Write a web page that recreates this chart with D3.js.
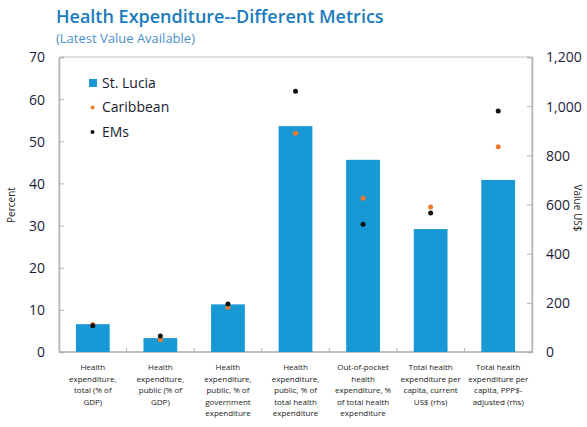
<!DOCTYPE html>
<html>
<head>
<meta charset="utf-8">
<script src="https://cdn.jsdelivr.net/npm/d3@7"></script>
<style>
  body { margin: 0; background: #fff; }
  text { font-family: "Open Sans", "Noto Sans", sans-serif; }
</style>
</head>
<body>
<div id="wrapper"></div>
<script>

// 1. Data
const categories = [
    ["Health", "expenditure,", "total (% of", "GDP)"],
    ["Health", "expenditure,", "public (% of", "GDP)"],
    ["Health", "expenditure,", "public, % of", "government", "expenditure"],
    ["Health", "expenditure,", "public, % of", "total health", "expenditure"],
    ["Out-of-pocket", "health", "expenditure, %", "of total health", "expenditure"],
    ["Total health", "expenditure per", "capita, current", "US$ (rhs)"],
    ["Total health", "expenditure per", "capita, PPP$-", "adjusted (rhs)"]
]
const onRightAxis = [false, false, false, false, false, true, true]

const stLucia   = [6.6, 3.3, 11.3, 53.6, 45.6, 500, 700]
const caribbean = [6.5, 2.9, 10.6, 51.9, 36.5, 590, 835]
const ems       = [6.2, 3.8, 11.4, 61.9, 30.3, 565, 980]

const leftTicks = [0, 10, 20, 30, 40, 50, 60, 70]
const rightTicks = [0, 200, 400, 600, 800, 1000, 1200]
const legendLabels = ["St. Lucia", "Caribbean", "EMs"]

// 2. Dimensions
let dimensions = {
    width: 587,
    height: 427,
    margin: {
        top: 57,
        right: 55,
        bottom: 75,
        left: 59,
    },
}
dimensions.boundedWidth = dimensions.width - dimensions.margin.left - dimensions.margin.right
dimensions.boundedHeight = dimensions.height - dimensions.margin.top - dimensions.margin.bottom

const barColor = "#1898d5"
const caribColor = "#f07a2a"
const emColor = "#111111"
const axisColor = "#b4b4b4"
const tickTextColor = "#1c1c3a"

const svg = d3.select("#wrapper")
    .append("svg")
    .attr("width", dimensions.width)
    .attr("height", dimensions.height)

// title
svg.append("text")
    .attr("x", 56)
    .attr("y", 23)
    .style("font-size", "18px")
    .style("font-weight", 600)
    .style("fill", "#1a7bbd")
    .text("Health Expenditure--Different Metrics")

svg.append("text")
    .attr("x", 56)
    .attr("y", 43)
    .style("font-size", "13px")
    .style("fill", "#4a90c8")
    .text("(Latest Value Available)")

const bounds = svg.append("g")
    .attr("transform", `translate(${dimensions.margin.left}, ${dimensions.margin.top})`)

// 3. Scales
const xScale = d3.scaleBand()
    .domain(d3.range(categories.length))
    .range([0, dimensions.boundedWidth])
    .paddingInner(0.5)
    .paddingOuter(0.25)

const xBand = d3.scaleBand()
    .domain(d3.range(categories.length))
    .range([0, dimensions.boundedWidth])

const yLeft = d3.scaleLinear()
    .domain([0, 70])
    .range([dimensions.boundedHeight, 0])

const yRight = d3.scaleLinear()
    .domain([0, 1200])
    .range([dimensions.boundedHeight, 0])

const yFor = i => onRightAxis[i] ? yRight : yLeft

// 4. Frame
bounds.append("rect")
    .attr("x", 0)
    .attr("y", 0)
    .attr("width", dimensions.boundedWidth)
    .attr("height", dimensions.boundedHeight)
    .attr("rx", 3)
    .attr("fill", "none")
    .attr("stroke", "#d6d6d6")
    .attr("stroke-width", 1.5)

// axes
const leftAxis = bounds.append("g")
    .call(d3.axisRight(yLeft).tickValues(leftTicks).tickSize(5).tickFormat(""))
leftAxis.select(".domain").attr("stroke", axisColor).attr("stroke-width", 1.5)
leftAxis.selectAll(".tick line").attr("stroke", axisColor)

leftAxis.selectAll(".tick")
    .append("text")
    .attr("x", -14)
    .attr("dy", "0.35em")
    .attr("text-anchor", "end")
    .style("font-size", "14px")
    .style("fill", tickTextColor)
    .text(d => d)

const rightAxis = bounds.append("g")
    .attr("transform", `translate(${dimensions.boundedWidth}, 0)`)
    .call(d3.axisLeft(yRight).tickValues(rightTicks).tickSize(5).tickFormat(""))
rightAxis.select(".domain").attr("stroke", axisColor).attr("stroke-width", 1.5)
rightAxis.selectAll(".tick line").attr("stroke", axisColor)

rightAxis.selectAll(".tick")
    .append("text")
    .attr("x", 14)
    .attr("dy", "0.35em")
    .attr("text-anchor", "start")
    .style("font-size", "14px")
    .style("fill", tickTextColor)
    .text(d => d3.format(",")(d))

// bottom axis, ticks between categories
const bottomAxis = bounds.append("g")
    .attr("transform", `translate(0, ${dimensions.boundedHeight})`)

bottomAxis.append("line")
    .attr("x1", 0)
    .attr("x2", dimensions.boundedWidth)
    .attr("stroke", axisColor)
    .attr("stroke-width", 1.5)

bottomAxis.selectAll("line.sep")
    .data(d3.range(1, categories.length))
    .join("line")
    .attr("class", "sep")
    .attr("x1", d => xBand(d))
    .attr("x2", d => xBand(d))
    .attr("y1", 0)
    .attr("y2", -4)
    .attr("stroke", axisColor)

const labelGroups = bottomAxis.selectAll("text.cat")
    .data(categories)
    .join("text")
    .attr("class", "cat")
    .attr("text-anchor", "middle")
    .style("font-size", "8px")
    .style("fill", "#222")

labelGroups.selectAll("tspan")
    .data((d, i) => d.map(line => ({line, i})))
    .join("tspan")
    .attr("x", d => xBand(d.i) + xBand.bandwidth() / 2)
    .attr("y", (d, j) => 18 + j * 11.5)
    .text(d => d.line)

// 5. Bars
bounds.append("g")
    .selectAll("rect")
    .data(stLucia)
    .join("rect")
    .attr("x", (d, i) => xScale(i))
    .attr("width", xScale.bandwidth())
    .attr("y", (d, i) => yFor(i)(d))
    .attr("height", (d, i) => dimensions.boundedHeight - yFor(i)(d))
    .attr("fill", barColor)

// dots
const drawDots = (values, color) => {
    bounds.append("g")
        .selectAll("circle")
        .data(values)
        .join("circle")
        .attr("cx", (d, i) => xScale(i) + xScale.bandwidth() / 2)
        .attr("cy", (d, i) => yFor(i)(d))
        .attr("r", 2.5)
        .attr("fill", color)
}
drawDots(caribbean, caribColor)
drawDots(ems, emColor)

// 6. Legend
const legend = svg.append("g")
    .attr("transform", "translate(89, 83)")

const legendItems = legend.selectAll("g")
    .data(legendLabels)
    .join("g")
    .attr("transform", (d, i) => `translate(0, ${i * 24.5})`)

legendItems.filter((d, i) => i === 0)
    .append("rect")
    .attr("x", 0)
    .attr("y", -4)
    .attr("width", 8)
    .attr("height", 8)
    .attr("fill", barColor)

legendItems.filter((d, i) => i > 0)
    .append("circle")
    .attr("cx", 3.5)
    .attr("cy", 0)
    .attr("r", 2)
    .attr("fill", (d, i) => i === 0 ? caribColor : emColor)

legendItems.append("text")
    .attr("x", 13)
    .attr("dy", "0.35em")
    .style("font-size", "14px")
    .style("fill", "#1a1a2e")
    .text(d => d)

// axis titles
svg.append("text")
    .attr("transform", "translate(15, 205) rotate(-90)")
    .attr("text-anchor", "middle")
    .style("font-size", "10px")
    .style("fill", "#222")
    .text("Percent")

svg.append("text")
    .attr("transform", "translate(574, 208) rotate(90)")
    .attr("text-anchor", "middle")
    .style("font-size", "10px")
    .style("fill", "#222")
    .text("Value US$")

</script>
</body>
</html>
